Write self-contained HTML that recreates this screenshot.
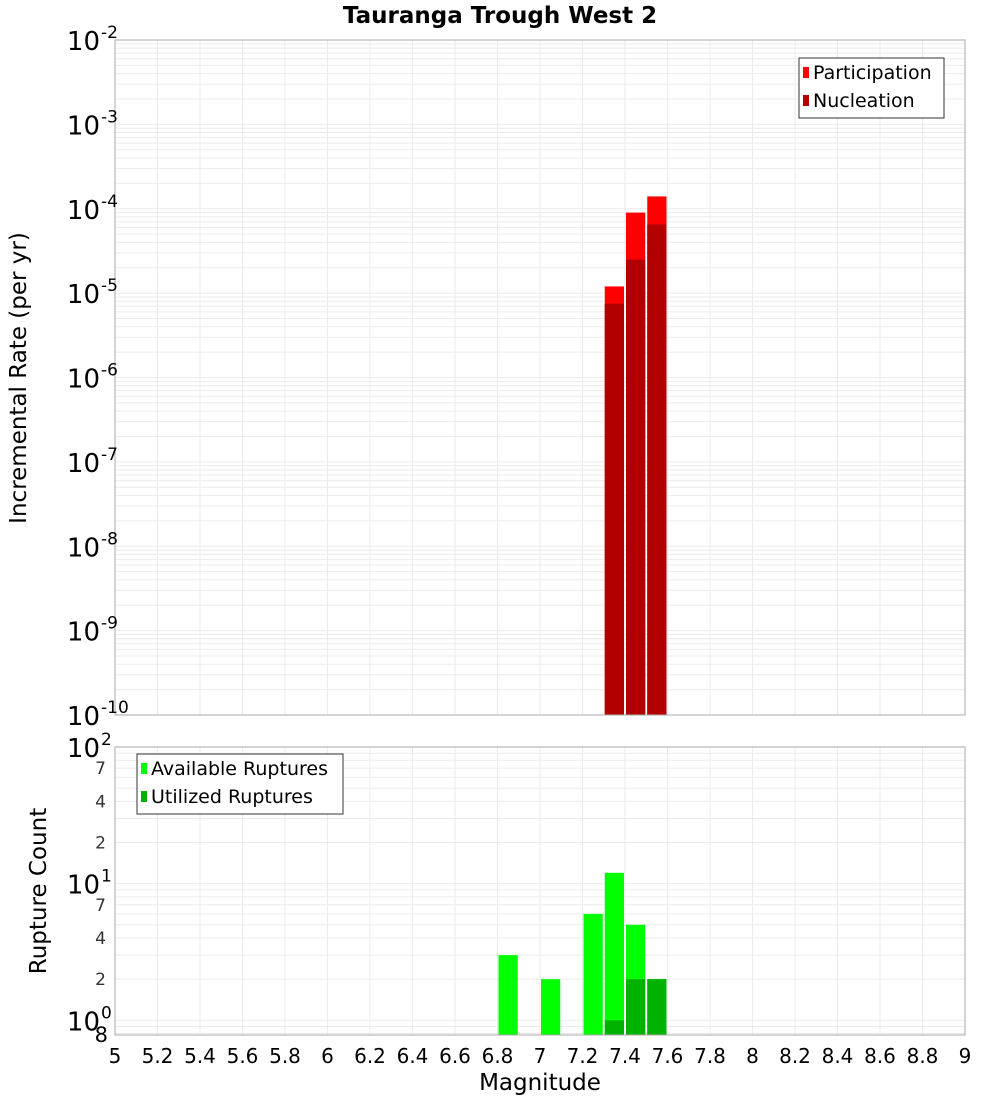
<!DOCTYPE html>
<html><head><meta charset="utf-8"><style>
body{margin:0;background:#fff;width:1000px;height:1100px;overflow:hidden;font-family:"Liberation Sans","DejaVu Sans",sans-serif}
svg text{font-family:"DejaVu Sans","Liberation Sans",sans-serif}
</style></head><body>
<svg id="c" width="1000" height="1100" xmlns="http://www.w3.org/2000/svg">
<text x="500" y="23" text-anchor="middle" font-size="23" font-weight="bold">Tauranga Trough West 2</text>
<g id="g1"></g>
<g id="g2"></g>
<text transform="translate(26,378) rotate(-90)" text-anchor="middle" font-size="23">Incremental Rate (per yr)</text>
<text transform="translate(46,891) rotate(-90)" text-anchor="middle" font-size="23">Rupture Count</text>
<text x="540" y="1090" text-anchor="middle" font-size="23">Magnitude</text>
</svg>
<script>
const magBins=[6.85,7.05,7.25,7.35,7.45,7.55];
const partMags=[7.35,7.45,7.55];
const partVals=[1.2e-5,9e-5,1.4e-4];
const nuclVals=[7.5e-6,2.5e-5,6.5e-5];
const availVals=[3,2,6,12,5,2];
const utilMags=[7.35,7.45,7.55];
const utilVals=[1,2,2];
const xTicks=[5,5.2,5.4,5.6,5.8,6,6.2,6.4,6.6,6.8,7,7.2,7.4,7.6,7.8,8,8.2,8.4,8.6,8.8,9];
const topExps=[-2,-3,-4,-5,-6,-7,-8,-9,-10];
const botExps=[2,1,0];
const botMinor=[7,4,2];

const NS='http://www.w3.org/2000/svg';
const X0=115,X1=965;
const x=m=>X0+(m-5)/4*(X1-X0);
const T0=40,T1=715;
const yT=v=>T0+(-2-Math.log10(v))/8*(T1-T0);
const B0=747,B1=1035,BMIN=0.78;
const yB=v=>B0+(2-Math.log10(v))/(2-Math.log10(BMIN))*(B1-B0);
function el(p,t,a,txt){const e=document.createElementNS(NS,t);for(const k in a)e.setAttribute(k,a[k]);if(txt!==undefined)e.textContent=txt;p.appendChild(e);return e;}
const g1=document.getElementById('g1'),g2=document.getElementById('g2');

for(let e=-10;e<-2;e++)for(let k=1;k<10;k++){const yy=yT(k*Math.pow(10,e));
 const l=el(g1,'line',{x1:X0,x2:X1,y1:yy,y2:yy,stroke:'#ebebeb','stroke-width':1});
 
 }
for(let e=-1;e<2;e++)for(let k=1;k<10;k++){const v=k*Math.pow(10,e);if(v<BMIN)continue;const yy=yB(v);
 const l=el(g2,'line',{x1:X0,x2:X1,y1:yy,y2:yy,stroke:'#ebebeb','stroke-width':1});
 
 }
xTicks.forEach(m=>{[[g1,T0,T1],[g2,B0,B1]].forEach(([g,a,b])=>{
 const l=el(g,'line',{x1:x(m),x2:x(m),y1:a,y2:b,stroke:'#ebebeb','stroke-width':1});
 
 });
 const t=el(g2,'text',{x:x(m),y:1063,'text-anchor':'middle','font-size':20},String(m));
 
 
});
const bw=(x(5.1)-x(5))-2;
partMags.forEach((m,i)=>{
 const r=el(g1,'rect',{x:x(m-0.05)+1,y:yT(partVals[i]),width:bw,height:T1-yT(partVals[i]),fill:'#ff0000'});
 
 
 const n=el(g1,'rect',{x:x(m-0.05)+1,y:yT(nuclVals[i]),width:bw,height:T1-yT(nuclVals[i]),fill:'#b20000'});
 
 
});
magBins.forEach((m,i)=>{
 const r=el(g2,'rect',{x:x(m-0.05)+1,y:yB(availVals[i]),width:bw,height:B1-yB(availVals[i]),fill:'#00ff00'});
 
 
});
utilMags.forEach((m,i)=>{
 const r=el(g2,'rect',{x:x(m-0.05)+1,y:yB(utilVals[i]),width:bw,height:B1-yB(utilVals[i]),fill:'#00b200'});
 
 
});
[[g1,T0,T1],[g2,B0,B1]].forEach(([g,a,b])=>{
 const f=el(g,'rect',{x:X0,y:a,width:X1-X0,height:b-a,fill:'none',stroke:'#aaa','stroke-width':1});
 
 });
topExps.forEach(e=>{const yy=yT(Math.pow(10,e));
 const t=el(g1,'text',{x:100,y:yy+10,'text-anchor':'end','font-size':26},'10');
 
 
 const s=el(g1,'text',{x:101,y:yy-2,'font-size':17},String(e));
 
 });
botExps.forEach(e=>{const yy=yB(Math.pow(10,e));
 const t=el(g2,'text',{x:100,y:yy+10,'text-anchor':'end','font-size':26},'10');
 
 
 const s=el(g2,'text',{x:101,y:yy-2,'font-size':17},String(e));
 
 
 if(e>0)botMinor.forEach(k=>{const v=k*Math.pow(10,e-1);
  const m=el(g2,'text',{x:106,y:yB(v)+6,'text-anchor':'end','font-size':17,fill:'#333'},String(k));
  
  });});
const m8=el(g2,'text',{x:108,y:1042,'text-anchor':'end','font-size':21},'8');


function legend(g,lx,ly,w,items){
 const b=el(g,'rect',{x:lx,y:ly,width:w,height:items.length*28+4,fill:'#fff',stroke:'#333','stroke-width':1});
 
 
 items.forEach(([c,t],i)=>{
  const s=el(g,'rect',{x:lx+4,y:ly+9+i*28,width:6,height:11,fill:c});
  
  
  const tx=el(g,'text',{x:lx+14,y:ly+21+i*28,'font-size':19},t);
  
  });
}
legend(g1,799,58,145,[['#ff0000','Participation'],['#b20000','Nucleation']]);
legend(g2,137,754,206,[['#00ff00','Available Ruptures'],['#00b200','Utilized Ruptures']]);
</script>
</body></html>
